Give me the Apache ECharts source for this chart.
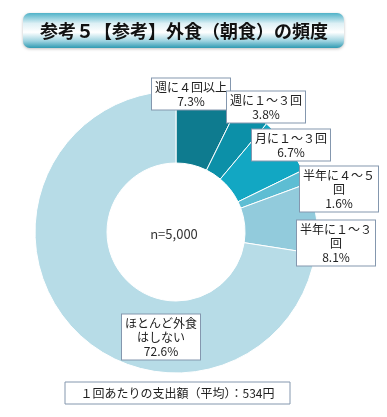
<!DOCTYPE html>
<html><head><meta charset="utf-8">
<script src="https://cdn.jsdelivr.net/npm/echarts@6/dist/echarts.min.js"></script>
<style>html,body{margin:0;padding:0;background:#fff}#c{width:387px;height:417px}</style>
</head><body><div id="c"></div>
<script>
var categories = ['週に４回以上', '週に１～３回', '月に１～３回', '半年に４～５\n回', '半年に１～３\n回', 'ほとんど外食\nはしない'];
var values = [7.3, 3.8, 6.7, 1.6, 8.1, 72.6];
var colors = ['#0E7B8F', '#0C90A8', '#12A7C3', '#5DBDD3', '#92CBDC', '#B7DCE7'];
var titleText = '参考５【参考】外食（朝食）の頻度';
var sampleText = 'n=5,000';
var noteText = '１回あたりの支出額（平均）：534円';

// label box centers (layout only)
var labelPos = [[191, 94], [266, 107], [291, 145], [339, 189], [336, 243], [161, 337]];

var chart = echarts.init(document.getElementById('c'));
var font = '"Noto Sans CJK JP", sans-serif';
chart.setOption({
  animation: false,
  graphic: [
    {type: 'rect', shape: {x: 23, y: 13, width: 321, height: 35, r: 7},
     style: {fill: new echarts.graphic.LinearGradient(0, 0, 0, 1, [
       {offset: 0, color: '#4FB2C8'}, {offset: 0.3, color: '#DDF0F5'},
       {offset: 0.55, color: '#FFFFFF'}, {offset: 0.8, color: '#9ED3E0'},
       {offset: 1, color: '#2F9AB2'}]),
       shadowBlur: 3, shadowColor: 'rgba(0,0,0,0.25)', shadowOffsetY: 1}},
    {type: 'text', x: 184, y: 31, style: {text: titleText, font: 'bold 18px ' + font, fill: '#111', align: 'center', verticalAlign: 'middle'}},
    {type: 'text', x: 174, y: 234, style: {text: sampleText, font: '13px ' + font, fill: '#333', align: 'center', verticalAlign: 'middle'}},
    {type: 'rect', shape: {x: 65, y: 382, width: 225, height: 22},
     style: {fill: '#fff', stroke: '#8497AE', lineWidth: 1}},
    {type: 'text', x: 177.5, y: 393, style: {text: noteText, font: '12px ' + font, fill: '#222', align: 'center', verticalAlign: 'middle'}}
  ],
  series: [{
    type: 'pie',
    center: [176, 232],
    radius: [69, 141],
    startAngle: 90,
    clockwise: true,
    data: categories.map(function (c, i) { return {name: c, value: values[i], itemStyle: {color: colors[i]}}; }),
    itemStyle: {borderColor: '#fff', borderWidth: 1},
    label: {
      show: true,
      position: 'inside',
      overflow: 'none',
      formatter: function (p) { return p.name + '\n' + p.value.toFixed(1) + '%'; },
      fontFamily: font, fontSize: 12, lineHeight: 14, color: '#222',
      backgroundColor: '#fff', borderColor: '#8497AE', borderWidth: 1,
      padding: [2, 3, 1, 3], align: 'center'
    },
    labelLine: {show: false},
    labelLayout: function (p) {
      var pos = labelPos[p.dataIndex];
      return {x: pos[0], y: pos[1], align: 'center', verticalAlign: 'middle'};
    },
    emphasis: {disabled: true}
  }]
});
</script></body></html>
